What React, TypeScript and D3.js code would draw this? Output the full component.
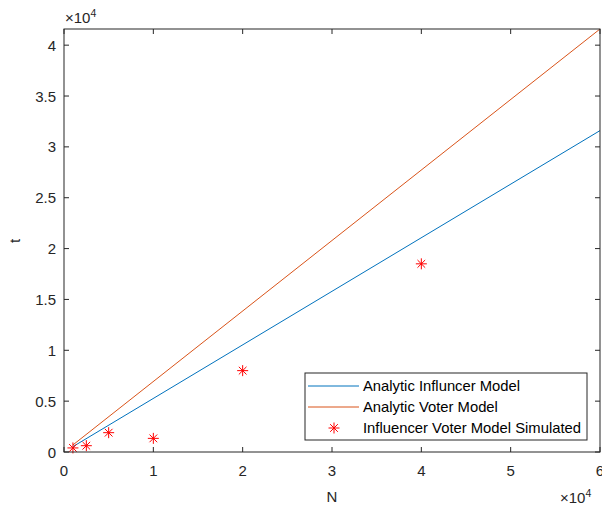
import React from "react";
import * as d3 from "d3";

const lineN = [1000, 60000];
const influencerT = [527, 31600];
const voterT = [693, 41589];
const simN = [1000, 2500, 5000, 10000, 20000, 40000];
const simT = [400, 620, 1900, 1340, 8000, 18500];
const xTicks = [0, 1, 2, 3, 4, 5, 6];
const yTicks = [0, 0.5, 1, 1.5, 2, 2.5, 3, 3.5, 4];
const legendLabels = ["Analytic Influncer Model", "Analytic Voter Model", "Influencer Voter Model Simulated"];

const W = 602, H = 508;
const left = 64, right = 600, top = 29, bottom = 452;
const font = "Liberation Sans, Arial, sans-serif";
const axisColor = "#262626";

function Star({ x, y, color, r = 5.5 }: { x: number; y: number; color: string; r?: number }) {
  const d = `M${x - r},${y}H${x + r}M${x},${y - r}V${y + r}M${x - r * 0.7},${y - r * 0.7}L${x + r * 0.7},${y + r * 0.7}M${x - r * 0.7},${y + r * 0.7}L${x + r * 0.7},${y - r * 0.7}`;
  return <path d={d} stroke={color} strokeWidth={1} fill="none" />;
}

export default function App() {
  const x = d3.scaleLinear().domain([0, 60000]).range([left, right]);
  const y = d3.scaleLinear().domain([0, 41589]).range([bottom, top]);
  const line = d3.line<[number, number]>().x((d) => x(d[0])).y((d) => y(d[1]));
  const inf = lineN.map((n, i) => [n, influencerT[i]] as [number, number]);
  const vot = lineN.map((n, i) => [n, voterT[i]] as [number, number]);
  const tl = 5;
  const lx = 305, ly = 373, lw = 282, lh = 67;
  const rows = [386, 407, 428];
  return (
    <svg width={W} height={H} style={{ position: "absolute", left: 0, top: 0 }} fontFamily={font}>
      <rect width={W} height={H} fill="#fff" />
      <path d={line(inf) || ""} stroke="#0072BD" strokeWidth={1} fill="none" />
      <path d={line(vot) || ""} stroke="#D95319" strokeWidth={1} fill="none" />
      {simN.map((n, i) => (
        <Star key={i} x={x(n)} y={y(simT[i])} color="#FF0000" />
      ))}
      <rect x={left} y={top} width={right - left} height={bottom - top} fill="none" stroke={axisColor} strokeWidth={1} />
      {xTicks.map((t) => {
        const px = x(t * 10000);
        return (
          <g key={"x" + t}>
            <line x1={px} x2={px} y1={bottom} y2={bottom - tl} stroke={axisColor} />
            <line x1={px} x2={px} y1={top} y2={top + tl} stroke={axisColor} />
            <text x={px} y={475.5} textAnchor="middle" fontSize={15} fill={axisColor}>{t}</text>
          </g>
        );
      })}
      {yTicks.map((t) => {
        const py = y(t * 10000);
        return (
          <g key={"y" + t}>
            <line x1={left} x2={left + tl} y1={py} y2={py} stroke={axisColor} />
            <line x1={right} x2={right - tl} y1={py} y2={py} stroke={axisColor} />
            <text x={left - 8} y={py + 5.5} textAnchor="end" fontSize={15} fill={axisColor}>{t}</text>
          </g>
        );
      })}
      <text x={65} y={23} fontSize={15} fill={axisColor}>×10<tspan dy={-6} fontSize={10.5}>4</tspan></text>
      <text x={560} y={503} fontSize={15} fill={axisColor}>×10<tspan dy={-6} fontSize={10.5}>4</tspan></text>
      <text x={332} y={502} textAnchor="middle" fontSize={15} fill={axisColor}>N</text>
      <text transform="translate(20,241) rotate(-90)" textAnchor="middle" fontSize={15} fill={axisColor}>t</text>
      <rect x={lx} y={ly} width={lw} height={lh} fill="#fff" stroke={axisColor} strokeWidth={1} />
      <line x1={308} x2={359} y1={rows[0]} y2={rows[0]} stroke="#0072BD" />
      <line x1={308} x2={359} y1={rows[1]} y2={rows[1]} stroke="#D95319" />
      <Star x={334} y={rows[2]} color="#FF0000" />
      {legendLabels.map((l, i) => (
        <text key={l} x={363} y={rows[i] + 5} fontSize={14.8} fill="#000">{l}</text>
      ))}
    </svg>
  );
}
